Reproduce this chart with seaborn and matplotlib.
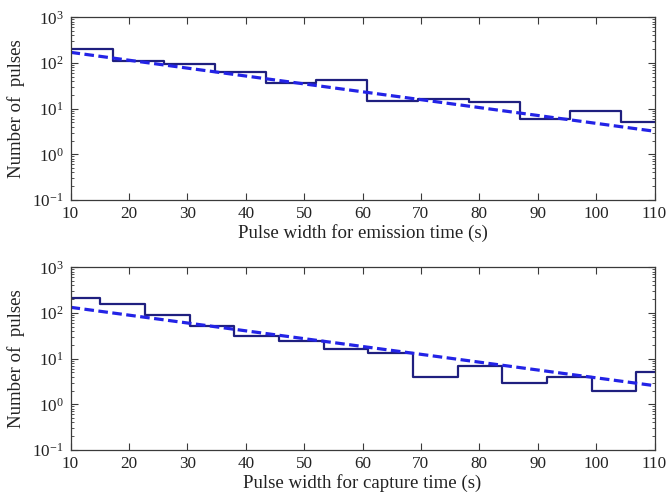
import numpy as np
import pandas as pd
import matplotlib
matplotlib.use("Agg")
import matplotlib.pyplot as plt
import seaborn as sns
from matplotlib.ticker import LogLocator, LogFormatterMathtext, NullFormatter, FixedLocator

# ---- data ----
emission_edges = [8.6, 17.3, 26.0, 34.7, 43.4, 52.1, 60.8, 69.5, 78.2, 86.9, 95.6, 104.3, 113.0]
emission_counts = [205, 108, 96, 62, 36, 42, 15, 16, 14, 6, 9, 5]
emission_fit_x = [10, 110]
emission_fit_y = [171, 3.2]

capture_edges = [7.45, 15.1, 22.75, 30.4, 38.05, 45.7, 53.35, 61.0, 68.65, 76.3,
                 83.95, 91.6, 99.25, 106.9, 114.55]
capture_counts = [210, 160, 92, 53, 31, 24, 16, 13, 4, 7, 3, 4, 2, 5]
capture_fit_x = [10, 110]
capture_fit_y = [133, 2.56]

x_ticks = [10, 20, 30, 40, 50, 60, 70, 80, 90, 100, 110]
xlabels = ["Pulse width for emission time (s)", "Pulse width for capture time (s)"]
ylabel = "Number of  pulses"

# ---- style ----
sns.set_style("ticks")
plt.rcParams["font.family"] = ["Liberation Serif", "DejaVu Serif"]
plt.rcParams["mathtext.fontset"] = "custom"
plt.rcParams["mathtext.rm"] = "Liberation Serif"
plt.rcParams["mathtext.default"] = "regular"

STEP_C = "#1f1f7f"
FIT_C = "#2323e6"
AX_C = "#3a3a3a"

fig = plt.figure(figsize=(6.69, 4.97), dpi=100)
ax_top = fig.add_axes([0.1054, 0.5976, 0.873, 0.3676])
ax_bot = fig.add_axes([0.1054, 0.0946, 0.873, 0.3676])

datasets = [
    (ax_top, emission_edges, emission_counts, emission_fit_x, emission_fit_y, xlabels[0]),
    (ax_bot, capture_edges, capture_counts, capture_fit_x, capture_fit_y, xlabels[1]),
]

for ax, edges, counts, fx, fy, xl in datasets:
    e = np.array(edges)
    centers = (e[:-1] + e[1:]) / 2
    df = pd.DataFrame({"x": centers, "w": counts})
    sns.histplot(data=df, x="x", weights="w", bins=list(edges), element="step", fill=False,
                 color=STEP_C, linewidth=1.6, ax=ax)
    sns.lineplot(x=fx, y=fy, ax=ax, color=FIT_C, linewidth=2.3,
                 linestyle=(0, (3.0, 1.4)))
    ax.set_yscale("log")
    ax.set_ylim(0.1, 1000)
    ax.set_xlim(10, 110)
    ax.xaxis.set_major_locator(FixedLocator(x_ticks))
    ax.set_xticklabels([str(t) for t in x_ticks])
    ax.yaxis.set_major_locator(LogLocator(base=10, numticks=10))
    ax.yaxis.set_major_formatter(LogFormatterMathtext())
    ax.yaxis.set_minor_locator(LogLocator(base=10, subs=np.arange(2, 10), numticks=20))
    ax.yaxis.set_minor_formatter(NullFormatter())
    ax.tick_params(axis="both", which="major", direction="in", length=5, width=0.8,
                   top=True, right=True, labelsize=12.3, colors=AX_C, labelcolor="#222222")
    ax.tick_params(axis="y", which="minor", direction="in", length=2.5, width=0.6,
                   left=True, right=True, colors=AX_C)
    ax.tick_params(axis="x", which="major", pad=4)
    ax.tick_params(axis="y", which="major", pad=5)
    for s in ax.spines.values():
        s.set_visible(True)
        s.set_color(AX_C)
        s.set_linewidth(0.9)
    ax.set_xlabel(xl, fontsize=13.6, color="#222222", labelpad=2)
    ax.set_ylabel(ylabel, fontsize=13.6, color="#222222", labelpad=5)

fig.savefig("out.png", dpi=100)
